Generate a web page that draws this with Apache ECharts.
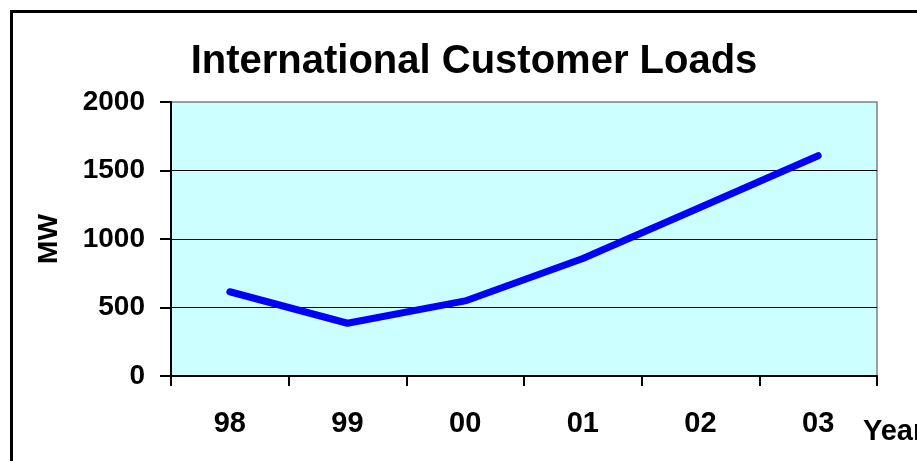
<!DOCTYPE html>
<html>
<head>
<meta charset="utf-8">
<script src="https://cdn.jsdelivr.net/npm/echarts@6/dist/echarts.min.js"></script>
<style>html,body{margin:0;padding:0;background:#fff;overflow:hidden;}#c{width:917px;height:461px;}</style>
</head>
<body>
<div id="c"></div>
<script>
const titleText = 'International Customer Loads';
const categories = ['98', '99', '00', '01', '02', '03'];
const loads = [615, 385, 548, 858, 1232, 1608];
const yTicks = { min: 0, max: 2000, interval: 500 };
const xName = 'Year';
const yName = 'MW';

const FONT = '"Liberation Sans", Arial, sans-serif';
const chart = echarts.init(document.getElementById('c'), null, { renderer: 'canvas' });
chart.setOption({
  backgroundColor: '#ffffff',
  animation: false,
  title: {
    text: titleText,
    left: 469,
    textAlign: 'center',
    top: 37,
    textStyle: { fontFamily: FONT, fontWeight: 'bold', fontSize: 40, color: '#000' }
  },
  graphic: [
    { type: 'polyline', shape: { points: [[11.5, 480], [11.5, 11.5], [940, 11.5]] },
      style: { fill: null, stroke: '#000', lineWidth: 3 }, silent: true, z: 100 }
  ],
  grid: { left: 171, top: 102, right: 40, bottom: 85, show: true,
    containLabel: false, outerBoundsMode: 'none',
    backgroundColor: '#CCFFFF', borderColor: '#808080', borderWidth: 1.5 },
  xAxis: {
    type: 'category',
    data: categories,
    boundaryGap: true,
    name: xName,
    nameLocation: 'end',
    nameGap: -14,
    nameTextStyle: { fontFamily: FONT, fontWeight: 'bold', fontSize: 29, color: '#000',
      align: 'left', verticalAlign: 'top', padding: [41, 0, 0, 0] },
    axisLine: { show: true, lineStyle: { color: '#000', width: 2 } },
    axisTick: { show: true, alignWithLabel: false, length: 10, lineStyle: { color: '#000', width: 2 } },
    axisLabel: { fontFamily: FONT, fontWeight: 'bold', fontSize: 29, color: '#000', margin: 33 },
    splitLine: { show: false }
  },
  yAxis: {
    type: 'value',
    min: yTicks.min, max: yTicks.max, interval: yTicks.interval,
    name: yName,
    nameLocation: 'middle',
    nameRotate: 90,
    nameGap: 108,
    nameTextStyle: { fontFamily: FONT, fontWeight: 'bold', fontSize: 28, color: '#000' },
    axisLine: { show: true, lineStyle: { color: '#000', width: 2 } },
    axisTick: { show: true, length: 11, lineStyle: { color: '#000', width: 2 } },
    axisLabel: { fontFamily: FONT, fontWeight: 'bold', fontSize: 28, color: '#000', margin: 26,
      formatter: v => String(v) },
    splitLine: { show: true, showMaxLine: false, lineStyle: { color: '#000', width: 1 } }
  },
  series: [{
    type: 'line',
    data: loads,
    symbol: 'none',
    lineStyle: { color: '#0000FF', width: 7, cap: 'round', join: 'round' },
    itemStyle: { color: '#0000FF' }
  }]
});
</script>
</body>
</html>
